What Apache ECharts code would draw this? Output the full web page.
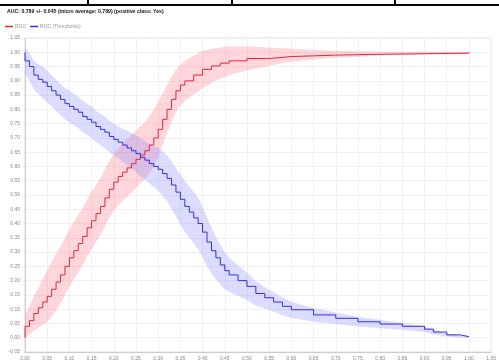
<!DOCTYPE html>
<html><head><meta charset="utf-8">
<script src="https://cdn.jsdelivr.net/npm/echarts@6/dist/echarts.min.js"></script>
<style>html,body{margin:0;padding:0;background:#fff}#c{width:499px;height:363px}</style>
</head><body><div id="c"></div>
<script>
var titleText = "AUC: 0.789 +/- 0.045 (micro average: 0.789) (positive class: Yes)";
var legendNames = ["ROC", "ROC (Thresholds)"];

var rocX = [0.000,0.000,0.010,0.020,0.030,0.040,0.050,0.060,0.070,0.080,0.090,0.100,0.110,0.120,0.130,0.140,0.150,0.160,0.170,0.180,0.190,0.200,0.210,0.220,0.230,0.240,0.250,0.260,0.270,0.280,0.290,0.300,0.310,0.320,0.330,0.340,0.350,0.360,0.380,0.400,0.420,0.440,0.460,0.500,0.550,0.600,0.700,0.800,0.900,1.000,1.000];
var rocY = [0.000,0.040,0.060,0.085,0.105,0.125,0.145,0.170,0.195,0.220,0.250,0.280,0.305,0.330,0.355,0.385,0.410,0.435,0.460,0.490,0.520,0.545,0.565,0.580,0.595,0.610,0.625,0.640,0.655,0.675,0.700,0.730,0.765,0.800,0.835,0.865,0.885,0.900,0.920,0.940,0.952,0.962,0.970,0.978,0.985,0.990,0.993,0.995,0.997,0.998,1.000];
var rocSd = [0.030,0.040,0.050,0.060,0.070,0.080,0.090,0.095,0.100,0.100,0.100,0.100,0.100,0.100,0.100,0.100,0.100,0.100,0.100,0.100,0.100,0.100,0.100,0.100,0.100,0.100,0.100,0.100,0.100,0.100,0.100,0.095,0.090,0.085,0.080,0.075,0.072,0.070,0.068,0.065,0.060,0.055,0.050,0.042,0.032,0.022,0.012,0.007,0.005,0.003,0.002];

var thrX = [0.000,0.000,0.010,0.020,0.030,0.040,0.050,0.060,0.070,0.080,0.090,0.100,0.110,0.120,0.130,0.140,0.150,0.160,0.170,0.180,0.190,0.200,0.210,0.220,0.230,0.240,0.250,0.260,0.270,0.280,0.290,0.300,0.310,0.320,0.330,0.340,0.350,0.360,0.370,0.380,0.390,0.400,0.410,0.420,0.430,0.440,0.450,0.460,0.480,0.500,0.520,0.540,0.560,0.580,0.600,0.650,0.700,0.750,0.800,0.850,0.900,0.920,0.950,0.980,1.000];
var thrY = [1.000,0.970,0.950,0.920,0.905,0.895,0.880,0.865,0.850,0.835,0.820,0.810,0.800,0.790,0.775,0.765,0.755,0.740,0.730,0.720,0.705,0.695,0.685,0.675,0.665,0.655,0.645,0.632,0.622,0.610,0.600,0.590,0.575,0.558,0.535,0.510,0.485,0.460,0.440,0.420,0.400,0.370,0.335,0.305,0.280,0.255,0.235,0.220,0.200,0.180,0.155,0.140,0.125,0.110,0.098,0.080,0.068,0.056,0.048,0.040,0.030,0.020,0.010,0.004,0.002];
var thrSd = [0.040,0.045,0.048,0.050,0.052,0.055,0.055,0.055,0.055,0.055,0.055,0.055,0.055,0.055,0.055,0.055,0.055,0.055,0.055,0.055,0.055,0.055,0.056,0.058,0.060,0.062,0.064,0.066,0.068,0.070,0.072,0.075,0.078,0.080,0.082,0.085,0.088,0.090,0.090,0.090,0.090,0.088,0.085,0.080,0.075,0.070,0.065,0.060,0.054,0.048,0.043,0.038,0.034,0.031,0.028,0.024,0.020,0.017,0.015,0.012,0.010,0.008,0.006,0.004,0.003];

var xTicks = {min: 0, max: 1.05, interval: 0.05};
var yTicks = {min: -0.05, max: 1.05, interval: 0.05};

function pairs(xs, ys){ return xs.map(function(x,i){ return [x, ys[i]]; }); }

function bandSeries(xs, ys, sd, color){
  return {
    type: 'custom', silent: true, z: 1,
    data: [[0, 0]],
    renderItem: function(params, api){
      var up = [], lo = [];
      for (var i = 0; i < xs.length; i++) up.push(api.coord([xs[i], ys[i] + sd[i]]));
      for (var j = xs.length - 1; j >= 0; j--) lo.push(api.coord([xs[j], ys[j] - sd[j]]));
      return {
        type: 'polygon',
        shape: {points: up.concat(lo)},
        style: {fill: color, stroke: null},
        clipPath: {type: 'rect', shape: {x: params.coordSys.x, y: params.coordSys.y, width: params.coordSys.width, height: params.coordSys.height}}
      };
    }
  };
}

var chart = echarts.init(document.getElementById('c'), null, {renderer: 'canvas'});
var fmt = function(v){ return (Math.round(v*100)/100).toFixed(2); };
chart.setOption({
  animation: false,
  backgroundColor: '#fff',
  textStyle: {fontFamily: 'Liberation Sans, Arial, sans-serif'},
  title: {text: titleText, left: 7, top: 9, padding: 0, textStyle: {fontSize: 5.2, fontWeight: 'bold', color: '#111'}},
  legend: {
    data: legendNames, left: 5, top: 24, padding: 0, itemWidth: 8, itemHeight: 1.5, itemGap: 4,
    icon: 'rect', textStyle: {fontSize: 5, color: '#999', padding: [0,0,0,-3]}
  },
  grid: {left: 25, right: 1, top: 38, bottom: 11, show: true, borderColor: '#ddd', borderWidth: 1},
  xAxis: {
    type: 'value', min: xTicks.min, max: xTicks.max, interval: xTicks.interval,
    axisLine: {show: true, onZero: false, lineStyle: {color: '#ccc'}},
    axisTick: {show: false},
    axisLabel: {fontSize: 5, color: '#888', margin: 4, formatter: fmt, showMaxLabel: true},
    splitLine: {show: true, lineStyle: {color: '#f0f0f0', width: 1}}
  },
  yAxis: {
    type: 'value', min: yTicks.min, max: yTicks.max, interval: yTicks.interval,
    axisLine: {show: true, onZero: false, lineStyle: {color: '#ccc'}},
    axisTick: {show: false},
    axisLabel: {fontSize: 5, color: '#888', margin: 5, formatter: fmt},
    splitLine: {show: true, lineStyle: {color: '#f0f0f0', width: 1}}
  },
  series: [
    bandSeries(rocX, rocY, rocSd, 'rgba(255,120,135,0.30)'),
    bandSeries(thrX, thrY, thrSd, 'rgba(120,120,255,0.26)'),
    {name: legendNames[0], type: 'line', step: 'end', showSymbol: false, data: pairs(rocX, rocY),
     lineStyle: {color: '#e0283c', width: 1}, itemStyle: {color: '#e0283c'}, z: 3},
    {name: legendNames[1], type: 'line', step: 'end', showSymbol: false, data: pairs(thrX, thrY),
     lineStyle: {color: '#3030d8', width: 1}, itemStyle: {color: '#3030d8'}, z: 3}
  ],
  graphic: [
    {type: 'line', shape: {x1: 0, y1: 5, x2: 499, y2: 5}, style: {stroke: '#000', lineWidth: 2}},
    {type: 'line', shape: {x1: 88, y1: 0, x2: 88, y2: 5}, style: {stroke: '#000', lineWidth: 2}},
    {type: 'line', shape: {x1: 232, y1: 0, x2: 232, y2: 5}, style: {stroke: '#000', lineWidth: 2}},
    {type: 'line', shape: {x1: 395, y1: 0, x2: 395, y2: 5}, style: {stroke: '#000', lineWidth: 2}}
  ]
});
</script></body></html>
